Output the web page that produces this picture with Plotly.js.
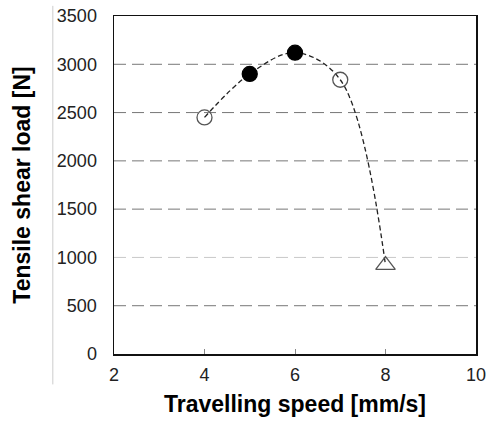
<!DOCTYPE html>
<html>
<head>
<meta charset="utf-8">
<script src="https://cdn.plot.ly/plotly-3.0.1.min.js"></script>
<style>html,body{margin:0;padding:0;background:#fff;}#chart{width:492px;height:421px;}</style>
</head>
<body>
<div id="chart"></div>
<script>
const speeds = [4, 5, 6, 7, 8];
const loads = [2450, 2900, 3120, 2840, 920];
const symbols = ['circle-open', 'circle', 'circle', 'circle-open', 'triangle-up-open'];
const xTicks = [2, 4, 6, 8, 10];
const yTicks = [0, 500, 1000, 1500, 2000, 2500, 3000, 3500];

const traces = [
  {
    x: speeds, y: loads, type: 'scatter', mode: 'lines',
    line: {shape: 'spline', smoothing: 1, color: '#222', width: 1.3, dash: '5px,3px'},
    hoverinfo: 'skip', showlegend: false
  },
  {
    x: speeds, y: loads, type: 'scatter', mode: 'markers',
    marker: {
      symbol: symbols,
      size: symbols.map(s => s.startsWith('triangle') ? 17 : 15),
      color: symbols.map(s => s.endsWith('open') ? '#555' : '#000'),
      opacity: 1,
      line: {color: '#000', width: 1.3}
    },
    showlegend: false
  }
];

const gridShapes = yTicks.filter(v => v > 0 && v < 3500).map(v => ({
  type: 'line', xref: 'paper', yref: 'y', x0: 0, x1: 1, y0: v, y1: v,
  layer: 'below',
  line: {color: v === 1000 ? '#c8c8c8' : '#777', width: 1, dash: '12px,6px'}
}));

const layout = {
  width: 492, height: 421,
  margin: {l: 114, r: 16, t: 16, b: 67},
  paper_bgcolor: '#fff', plot_bgcolor: '#fff',
  font: {family: 'Liberation Sans, Arial, sans-serif', color: '#222'},
  xaxis: {
    range: [2, 10], tickvals: xTicks, ticktext: xTicks.map(String),
    showgrid: false, zeroline: false,
    showline: true, mirror: true, linecolor: '#111', linewidth: 1.5,
    ticks: 'inside', ticklen: 5, tickcolor: '#888', tickwidth: 1,
    ticklabelstandoff: 4,
    tickfont: {size: 18, color: '#222'},
    title: {text: 'Travelling speed [mm/s]', font: {size: 23, color: '#000', family: 'Liberation Sans, Arial, sans-serif', weight: 'bold'}, standoff: 12}
  },
  yaxis: {
    range: [0, 3500], tickvals: yTicks, ticktext: yTicks.map(String),
    showgrid: false, zeroline: false,
    showline: true, mirror: true, linecolor: '#111', linewidth: 1.5,
    ticks: '', ticklabelstandoff: 12,
    tickfont: {size: 18, color: '#222'},
    title: {text: 'Tensile shear load [N]', font: {size: 23, color: '#000', family: 'Liberation Sans, Arial, sans-serif', weight: 'bold'}, standoff: 20}
  },
  shapes: gridShapes.concat([
    {type: 'line', xref: 'paper', yref: 'paper', x0: -0.169, x1: -0.169, y0: -0.09, y1: 1.03,
     line: {color: '#ccc', width: 1}}
  ])
};

Plotly.newPlot('chart', traces, layout, {displayModeBar: false, staticPlot: true});
</script>
</body>
</html>
